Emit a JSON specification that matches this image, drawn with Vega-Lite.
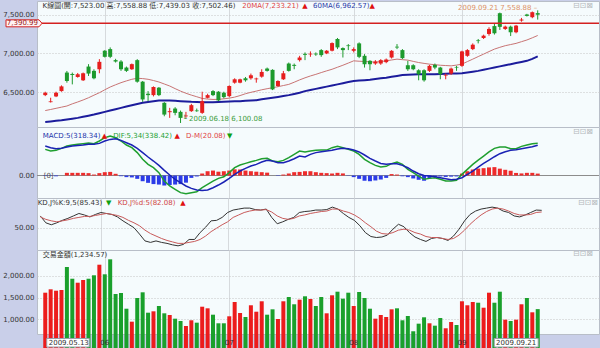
{
"$schema":"https://vega.github.io/schema/vega-lite/v6.json",
"background":"#c9cfe9",
"padding":0,
"spacing":0,
"bounds":"flush",
"config":{
 "view":{"fill":"#f5fbfd","stroke":"#b8bec8","strokeWidth":1},
 "font":"DejaVu Sans, Noto Sans CJK TC",
 "axis":{"labelFont":"DejaVu Sans","labelFontSize":7,"labelColor":"#333333","ticks":false,"tickSize":0,"domain":false,"gridColor":"#c4c4c4","gridDash":[1,2],"labelPadding":3},
 "axisY":{"minExtent":36,"maxExtent":36},
 "text":{"font":"DejaVu Sans, Noto Sans CJK TC","fontSize":7,"baseline":"middle","align":"left"}
},
"datasets":{"k":[
{"i":0,"open":6461,"high":6505,"low":6448,"close":6492,"vol":1613,"ma20":6261,"ma60":6113,"dif":274,"macd":309,"osc":-5,"k":74,"d":72},
{"i":1,"open":6370,"high":6427,"low":6365,"close":6380,"vol":1691,"ma20":6275,"ma60":6120,"dif":257,"macd":292,"osc":-4,"k":60,"d":67},
{"i":2,"open":6444,"high":6505,"low":6435,"close":6492,"vol":1659,"ma20":6290,"ma60":6128,"dif":264,"macd":281,"osc":-8,"k":56,"d":64},
{"i":3,"open":6513,"high":6587,"low":6505,"close":6574,"vol":1675,"ma20":6305,"ma60":6135,"dif":285,"macd":285,"osc":0,"k":60,"d":62},
{"i":4,"open":6753,"high":6774,"low":6622,"close":6644,"vol":2205,"ma20":6320,"ma60":6145,"dif":309,"macd":299,"osc":28,"k":65,"d":64},
{"i":5,"open":6735,"high":6753,"low":6600,"close":6722,"vol":1935,"ma20":6348,"ma60":6155,"dif":320,"macd":309,"osc":28,"k":69,"d":66},
{"i":6,"open":6696,"high":6748,"low":6687,"close":6731,"vol":1843,"ma20":6372,"ma60":6166,"dif":327,"macd":316,"osc":28,"k":74,"d":69},
{"i":7,"open":6653,"high":6753,"low":6644,"close":6744,"vol":1905,"ma20":6398,"ma60":6180,"dif":334,"macd":320,"osc":28,"k":79,"d":71},
{"i":8,"open":6831,"high":6862,"low":6709,"close":6740,"vol":1935,"ma20":6427,"ma60":6195,"dif":341,"macd":327,"osc":25,"k":76,"d":73},
{"i":9,"open":6775,"high":6796,"low":6666,"close":6679,"vol":2014,"ma20":6460,"ma60":6209,"dif":334,"macd":327,"osc":10,"k":72,"d":73},
{"i":10,"open":6796,"high":6927,"low":6744,"close":6892,"vol":2258,"ma20":6492,"ma60":6226,"dif":362,"macd":337,"osc":25,"k":77,"d":75},
{"i":11,"open":7036,"high":7044,"low":6948,"close":6957,"vol":2037,"ma20":6530,"ma60":6244,"dif":397,"macd":362,"osc":35,"k":81,"d":77},
{"i":12,"open":7057,"high":7079,"low":6940,"close":6957,"vol":2382,"ma20":6566,"ma60":6261,"dif":414,"macd":379,"osc":38,"k":79,"d":79},
{"i":13,"open":6914,"high":6931,"low":6883,"close":6896,"vol":1583,"ma20":6595,"ma60":6278,"dif":397,"macd":386,"osc":18,"k":77,"d":77},
{"i":14,"open":6896,"high":6914,"low":6775,"close":6796,"vol":1606,"ma20":6622,"ma60":6296,"dif":362,"macd":369,"osc":-7,"k":72,"d":75},
{"i":15,"open":6818,"high":6831,"low":6761,"close":6775,"vol":1244,"ma20":6645,"ma60":6313,"dif":320,"macd":344,"osc":-17,"k":64,"d":71},
{"i":16,"open":6796,"high":6870,"low":6788,"close":6862,"vol":945,"ma20":6666,"ma60":6330,"dif":292,"macd":320,"osc":-20,"k":57,"d":65},
{"i":17,"open":6914,"high":6927,"low":6622,"close":6635,"vol":1491,"ma20":6679,"ma60":6346,"dif":240,"macd":285,"osc":-35,"k":50,"d":60},
{"i":18,"open":6635,"high":6644,"low":6374,"close":6405,"vol":1622,"ma20":6675,"ma60":6361,"dif":170,"macd":240,"osc":-60,"k":37,"d":54},
{"i":19,"open":6479,"high":6513,"low":6383,"close":6461,"vol":1152,"ma20":6666,"ma60":6372,"dif":117,"macd":194,"osc":-77,"k":23,"d":45},
{"i":20,"open":6461,"high":6574,"low":6444,"close":6566,"vol":1184,"ma20":6650,"ma60":6382,"dif":82,"macd":152,"osc":-90,"k":20,"d":38},
{"i":21,"open":6557,"high":6566,"low":6448,"close":6461,"vol":1306,"ma20":6631,"ma60":6392,"dif":30,"macd":106,"osc":-95,"k":23,"d":33},
{"i":22,"open":6361,"high":6370,"low":6187,"close":6209,"vol":1138,"ma20":6605,"ma60":6392,"dif":-58,"macd":54,"osc":-105,"k":20,"d":28},
{"i":23,"open":6240,"high":6296,"low":6166,"close":6253,"vol":1099,"ma20":6579,"ma60":6392,"dif":-110,"macd":5,"osc":-100,"k":18,"d":24},
{"i":24,"open":6287,"high":6305,"low":6200,"close":6231,"vol":1014,"ma20":6545,"ma60":6388,"dif":-145,"macd":-40,"osc":-95,"k":15,"d":21},
{"i":25,"open":6244,"high":6261,"low":6100.08,"close":6166,"vol":961,"ma20":6513,"ma60":6383,"dif":-180,"macd":-75,"osc":-90,"k":13,"d":18},
{"i":26,"open":6187,"high":6244,"low":6166,"close":6196,"vol":846,"ma20":6485,"ma60":6378,"dif":-191,"macd":-110,"osc":-75,"k":16,"d":18},
{"i":27,"open":6253,"high":6348,"low":6244,"close":6331,"vol":977,"ma20":6461,"ma60":6374,"dif":-180,"macd":-135,"osc":-25,"k":26,"d":20},
{"i":28,"open":6262,"high":6287,"low":6244,"close":6253,"vol":922,"ma20":6440,"ma60":6372,"dif":-170,"macd":-152,"osc":-10,"k":26,"d":22},
{"i":29,"open":6231,"high":6505,"low":6218,"close":6383,"vol":1290,"ma20":6418,"ma60":6370,"dif":-128,"macd":-156,"osc":21,"k":40,"d":26},
{"i":30,"open":6426,"high":6479,"low":6418,"close":6461,"vol":1253,"ma20":6410,"ma60":6370,"dif":-93,"macd":-152,"osc":45,"k":51,"d":33},
{"i":31,"open":6513,"high":6526,"low":6448,"close":6461,"vol":1106,"ma20":6405,"ma60":6370,"dif":-58,"macd":-128,"osc":52,"k":64,"d":42},
{"i":32,"open":6505,"high":6513,"low":6383,"close":6392,"vol":908,"ma20":6406,"ma60":6372,"dif":-30,"macd":-100,"osc":40,"k":65,"d":49},
{"i":33,"open":6492,"high":6505,"low":6418,"close":6435,"vol":908,"ma20":6413,"ma60":6374,"dif":-13,"macd":-68,"osc":45,"k":71,"d":56},
{"i":34,"open":6448,"high":6587,"low":6435,"close":6579,"vol":1069,"ma20":6422,"ma60":6377,"dif":30,"macd":-30,"osc":52,"k":81,"d":62},
{"i":35,"open":6622,"high":6679,"low":6609,"close":6666,"vol":1399,"ma20":6435,"ma60":6380,"dif":82,"macd":12,"osc":65,"k":86,"d":71},
{"i":36,"open":6622,"high":6674,"low":6614,"close":6666,"vol":1145,"ma20":6455,"ma60":6383,"dif":110,"macd":47,"osc":63,"k":88,"d":76},
{"i":37,"open":6679,"high":6696,"low":6635,"close":6653,"vol":1053,"ma20":6479,"ma60":6387,"dif":127,"macd":75,"osc":52,"k":90,"d":81},
{"i":38,"open":6679,"high":6740,"low":6661,"close":6718,"vol":1323,"ma20":6497,"ma60":6391,"dif":145,"macd":99,"osc":45,"k":90,"d":84},
{"i":39,"open":6666,"high":6687,"low":6622,"close":6676,"vol":1175,"ma20":6513,"ma60":6396,"dif":159,"macd":117,"osc":40,"k":87,"d":86},
{"i":40,"open":6700,"high":6796,"low":6687,"close":6761,"vol":1415,"ma20":6530,"ma60":6406,"dif":176,"macd":141,"osc":35,"k":86,"d":86},
{"i":41,"open":6805,"high":6818,"low":6766,"close":6775,"vol":1106,"ma20":6544,"ma60":6416,"dif":180,"macd":159,"osc":30,"k":88,"d":87},
{"i":42,"open":6788,"high":6796,"low":6526,"close":6535,"vol":1230,"ma20":6557,"ma60":6427,"dif":152,"macd":152,"osc":0,"k":71,"d":82},
{"i":43,"open":6579,"high":6653,"low":6570,"close":6644,"vol":1007,"ma20":6570,"ma60":6438,"dif":145,"macd":134,"osc":-4,"k":58,"d":74},
{"i":44,"open":6666,"high":6774,"low":6657,"close":6744,"vol":1415,"ma20":6585,"ma60":6450,"dif":159,"macd":134,"osc":10,"k":62,"d":69},
{"i":45,"open":6870,"high":6883,"low":6766,"close":6775,"vol":1514,"ma20":6600,"ma60":6461,"dif":187,"macd":152,"osc":21,"k":67,"d":67},
{"i":46,"open":6853,"high":6870,"low":6796,"close":6840,"vol":1346,"ma20":6628,"ma60":6476,"dif":222,"macd":176,"osc":35,"k":71,"d":69},
{"i":47,"open":6914,"high":6970,"low":6896,"close":6948,"vol":1452,"ma20":6658,"ma60":6492,"dif":257,"macd":204,"osc":38,"k":81,"d":74},
{"i":48,"open":6996,"high":7014,"low":6914,"close":6983,"vol":1530,"ma20":6685,"ma60":6513,"dif":247,"macd":194,"osc":45,"k":83,"d":76},
{"i":49,"open":6988,"high":7027,"low":6957,"close":6998,"vol":1468,"ma20":6709,"ma60":6528,"dif":257,"macd":222,"osc":45,"k":84,"d":79},
{"i":50,"open":6998,"high":7014,"low":6970,"close":6988,"vol":1306,"ma20":6730,"ma60":6542,"dif":264,"macd":240,"osc":35,"k":86,"d":81},
{"i":51,"open":7044,"high":7057,"low":6957,"close":6979,"vol":1514,"ma20":6753,"ma60":6557,"dif":267,"macd":250,"osc":28,"k":86,"d":83},
{"i":52,"open":7001,"high":7044,"low":6992,"close":7036,"vol":1138,"ma20":6775,"ma60":6571,"dif":267,"macd":257,"osc":25,"k":87,"d":84},
{"i":53,"open":7036,"high":7144,"low":7027,"close":7135,"vol":1553,"ma20":6796,"ma60":6586,"dif":292,"macd":264,"osc":21,"k":92,"d":88},
{"i":54,"open":7188,"high":7201,"low":7057,"close":7079,"vol":1636,"ma20":6822,"ma60":6600,"dif":306,"macd":278,"osc":28,"k":88,"d":88},
{"i":55,"open":7070,"high":7079,"low":6948,"close":7044,"vol":1475,"ma20":6848,"ma60":6615,"dif":292,"macd":285,"osc":22,"k":79,"d":84},
{"i":56,"open":7105,"high":7122,"low":7044,"close":7096,"vol":1613,"ma20":6876,"ma60":6630,"dif":274,"macd":281,"osc":-3,"k":71,"d":81},
{"i":57,"open":7035,"high":7079,"low":7014,"close":7057,"vol":1306,"ma20":6905,"ma60":6644,"dif":257,"macd":267,"osc":-17,"k":65,"d":76},
{"i":58,"open":7131,"high":7144,"low":6940,"close":6957,"vol":1629,"ma20":6900,"ma60":6650,"dif":222,"macd":247,"osc":-35,"k":54,"d":69},
{"i":59,"open":6970,"high":6992,"low":6818,"close":6861,"vol":1491,"ma20":6896,"ma60":6655,"dif":170,"macd":215,"osc":-55,"k":40,"d":60},
{"i":60,"open":6905,"high":6914,"low":6783,"close":6861,"vol":1244,"ma20":6892,"ma60":6661,"dif":135,"macd":180,"osc":-60,"k":32,"d":52},
{"i":61,"open":6870,"high":6914,"low":6853,"close":6896,"vol":1014,"ma20":6888,"ma60":6670,"dif":106,"macd":152,"osc":-52,"k":30,"d":43},
{"i":62,"open":6870,"high":6927,"low":6853,"close":6914,"vol":1099,"ma20":6896,"ma60":6678,"dif":89,"macd":127,"osc":-42,"k":31,"d":38},
{"i":63,"open":6888,"high":6935,"low":6874,"close":6922,"vol":1053,"ma20":6905,"ma60":6687,"dif":96,"macd":117,"osc":-25,"k":35,"d":37},
{"i":64,"open":6948,"high":7044,"low":6935,"close":7035,"vol":1230,"ma20":6916,"ma60":6699,"dif":124,"macd":124,"osc":15,"k":47,"d":40},
{"i":65,"open":7088,"high":7122,"low":7057,"close":7078,"vol":1253,"ma20":6927,"ma60":6710,"dif":141,"macd":124,"osc":10,"k":57,"d":45},
{"i":66,"open":7044,"high":7057,"low":6927,"close":6940,"vol":977,"ma20":6920,"ma60":6722,"dif":117,"macd":106,"osc":-8,"k":52,"d":47},
{"i":67,"open":6848,"high":6905,"low":6775,"close":6796,"vol":1076,"ma20":6914,"ma60":6725,"dif":64,"macd":82,"osc":-17,"k":40,"d":45},
{"i":68,"open":6848,"high":6861,"low":6783,"close":6796,"vol":724,"ma20":6898,"ma60":6728,"dif":30,"macd":47,"osc":-31,"k":31,"d":40},
{"i":69,"open":6783,"high":6796,"low":6653,"close":6731,"vol":899,"ma20":6883,"ma60":6731,"dif":-6,"macd":19,"osc":-45,"k":26,"d":37},
{"i":70,"open":6783,"high":6796,"low":6635,"close":6653,"vol":1046,"ma20":6872,"ma60":6731,"dif":-40,"macd":1,"osc":-55,"k":22,"d":32},
{"i":71,"open":6775,"high":6853,"low":6761,"close":6840,"vol":908,"ma20":6862,"ma60":6731,"dif":-30,"macd":-6,"osc":-30,"k":28,"d":30},
{"i":72,"open":6853,"high":6870,"low":6796,"close":6818,"vol":853,"ma20":6855,"ma60":6731,"dif":-23,"macd":-13,"osc":-15,"k":30,"d":30},
{"i":73,"open":6818,"high":6827,"low":6666,"close":6731,"vol":1030,"ma20":6848,"ma60":6734,"dif":-40,"macd":-23,"osc":-10,"k":28,"d":28},
{"i":74,"open":6714,"high":6740,"low":6666,"close":6724,"vol":793,"ma20":6844,"ma60":6737,"dif":-58,"macd":-34,"osc":-15,"k":24,"d":26},
{"i":75,"open":6740,"high":6818,"low":6722,"close":6805,"vol":938,"ma20":6840,"ma60":6740,"dif":-58,"macd":-44,"osc":-12,"k":33,"d":28},
{"i":76,"open":6826,"high":6840,"low":6775,"close":6818,"vol":869,"ma20":6850,"ma60":6742,"dif":-51,"macd":-40,"osc":-10,"k":47,"d":35},
{"i":77,"open":6840,"high":7036,"low":6827,"close":7027,"vol":1415,"ma20":6862,"ma60":6744,"dif":12,"macd":-23,"osc":20,"k":64,"d":45},
{"i":78,"open":6970,"high":7057,"low":6957,"close":7044,"vol":1323,"ma20":6895,"ma60":6754,"dif":64,"macd":12,"osc":45,"k":77,"d":57},
{"i":79,"open":7057,"high":7131,"low":7044,"close":7114,"vol":1399,"ma20":6927,"ma60":6765,"dif":117,"macd":47,"osc":63,"k":84,"d":67},
{"i":80,"open":7170,"high":7188,"low":7131,"close":7161,"vol":1382,"ma20":6960,"ma60":6775,"dif":162,"macd":89,"osc":73,"k":88,"d":76},
{"i":81,"open":7201,"high":7244,"low":7188,"close":7231,"vol":1267,"ma20":6992,"ma60":6790,"dif":204,"macd":127,"osc":77,"k":90,"d":83},
{"i":82,"open":7253,"high":7340,"low":7231,"close":7318,"vol":1613,"ma20":7025,"ma60":6804,"dif":247,"macd":162,"osc":85,"k":92,"d":88},
{"i":83,"open":7355,"high":7390,"low":7245,"close":7262,"vol":1382,"ma20":7057,"ma60":6818,"dif":285,"macd":197,"osc":88,"k":90,"d":90},
{"i":84,"open":7522,"high":7530,"low":7305,"close":7345,"vol":1636,"ma20":7080,"ma60":6833,"dif":299,"macd":229,"osc":72,"k":84,"d":88},
{"i":85,"open":7318,"high":7361,"low":7305,"close":7348,"vol":991,"ma20":7101,"ma60":6847,"dif":299,"macd":250,"osc":60,"k":81,"d":84},
{"i":86,"open":7348,"high":7361,"low":7226,"close":7275,"vol":961,"ma20":7116,"ma60":6862,"dif":281,"macd":264,"osc":50,"k":74,"d":79},
{"i":87,"open":7275,"high":7370,"low":7262,"close":7361,"vol":991,"ma20":7131,"ma60":6876,"dif":281,"macd":271,"osc":27,"k":72,"d":76},
{"i":88,"open":7427,"high":7461,"low":7412,"close":7440,"vol":1346,"ma20":7153,"ma60":6891,"dif":306,"macd":281,"osc":22,"k":76,"d":76},
{"i":89,"open":7505,"high":7514,"low":7479,"close":7487,"vol":1491,"ma20":7175,"ma60":6905,"dif":320,"macd":292,"osc":28,"k":81,"d":77},
{"i":90,"open":7470,"high":7544,"low":7457,"close":7535,"vol":1161,"ma20":7203,"ma60":6930,"dif":334,"macd":302,"osc":28,"k":86,"d":81},
{"i":91,"open":7523,"high":7558.88,"low":7439.03,"close":7502.46,"vol":1234.57,"ma20":7233.21,"ma60":6962.57,"dif":338.42,"macd":318.34,"osc":20.08,"k":85.43,"d":82.08}
],
"months":[{"m":11,"t":"06"},{"m":34,"t":"07"},{"m":57,"t":"08"},{"m":77,"t":"09"}]},
"vconcat":[
{
 "width":562,"height":126,
 "data":{"name":"k"},
 "layer":[
  {"mark":{"type":"line","color":"#c87474","strokeWidth":1},
   "encoding":{"x":{"field":"i","type":"quantitative","scale":{"domain":[-0.6,101.4],"nice":false,"zero":false},"axis":{"values":[11,34,57,77],"labels":false,"grid":true,"gridDash":[],"gridColor":"#d6dadd","title":null}},
    "y":{"field":"ma20","type":"quantitative","scale":{"domain":[6048,7680],"nice":false,"zero":false},"axis":{"values":[6500,7000,7500],"format":",.2f","grid":true,"title":null}}}},
  {"mark":{"type":"line","color":"#1c1c9c","strokeWidth":2},
   "encoding":{"x":{"field":"i","type":"quantitative","scale":{"domain":[-0.6,101.4],"nice":false,"zero":false},"axis":{"title":null}},
    "y":{"field":"ma60","type":"quantitative","scale":{"domain":[6048,7680],"nice":false,"zero":false},"axis":{"title":null}}}},
  {"mark":{"type":"rule","strokeWidth":1},
   "encoding":{"x":{"field":"i","type":"quantitative","scale":{"domain":[-0.6,101.4],"nice":false,"zero":false},"axis":{"title":null}},
    "y":{"field":"low","type":"quantitative","scale":{"domain":[6048,7680],"nice":false,"zero":false},"axis":{"title":null}},
    "y2":{"field":"high"},
    "color":{"condition":{"test":"datum.close >= datum.open","value":"#e61e1e"},"value":"#1d9a2d"}}},
  {"mark":{"type":"bar","width":4},
   "encoding":{"x":{"field":"i","type":"quantitative","scale":{"domain":[-0.6,101.4],"nice":false,"zero":false},"axis":{"title":null}},
    "y":{"field":"open","type":"quantitative","scale":{"domain":[6048,7680],"nice":false,"zero":false},"axis":{"title":null}},
    "y2":{"field":"close"},
    "color":{"condition":{"test":"datum.close >= datum.open","value":"#e61e1e"},"value":"#1d9a2d"}}},
  {"data":{"values":[{}]},"mark":{"type":"rule","color":"#d42020","strokeWidth":1.6},
   "encoding":{"y":{"datum":7390.99,"type":"quantitative","scale":{"domain":[6048,7680],"nice":false,"zero":false},"axis":{"title":null}}}},
  {"data":{"values":[{}]},"mark":{"type":"point","shape":"M-36,-3.5H-3L0,0L-3,3.5H-36Z","size":4,"filled":true,"fill":"#fff4f4","stroke":"#d42020","strokeWidth":1,"opacity":1},
   "encoding":{"x":{"datum":-0.6,"type":"quantitative","scale":{"domain":[-0.6,101.4],"nice":false,"zero":false},"axis":{"title":null}},
    "y":{"datum":7390.99,"type":"quantitative","scale":{"domain":[6048,7680],"nice":false,"zero":false},"axis":{"title":null}}}},
  {"data":{"values":[{"t":"7,390.99"}]},"mark":{"type":"text","align":"right","dx":-4,"color":"#9a1a1a"},
   "encoding":{"x":{"datum":-0.6,"type":"quantitative","scale":{"domain":[-0.6,101.4],"nice":false,"zero":false},"axis":{"title":null}},
    "y":{"datum":7390.99,"type":"quantitative","scale":{"domain":[6048,7680],"nice":false,"zero":false},"axis":{"title":null}},"text":{"field":"t"}}},
  {"data":{"values":[{"t":"K線圖(開:7,523.00 高:7,558.88 低:7,439.03 收:7,502.46)"}]},"mark":{"type":"text","color":"#333333"},
   "encoding":{"x":{"datum":-0.5,"type":"quantitative","scale":{"domain":[-0.6,101.4],"nice":false,"zero":false},"axis":{"title":null}},
    "y":{"datum":7615,"type":"quantitative","scale":{"domain":[6048,7680],"nice":false,"zero":false},"axis":{"title":null}},"text":{"field":"t"}}},
  {"data":{"values":[{"t":"20MA(7,233.21)"}]},"mark":{"type":"text","color":"#e04444"},
   "encoding":{"x":{"datum":36.42,"type":"quantitative","scale":{"domain":[-0.6,101.4],"nice":false,"zero":false},"axis":{"title":null}},
    "y":{"datum":7615,"type":"quantitative","scale":{"domain":[6048,7680],"nice":false,"zero":false},"axis":{"title":null}},"text":{"field":"t"}}},
  {"data":{"values":[{"t":"▲"}]},"mark":{"type":"text","color":"#e01010"},
   "encoding":{"x":{"datum":47.49,"type":"quantitative","scale":{"domain":[-0.6,101.4],"nice":false,"zero":false},"axis":{"title":null}},
    "y":{"datum":7615,"type":"quantitative","scale":{"domain":[6048,7680],"nice":false,"zero":false},"axis":{"title":null}},"text":{"field":"t"}}},
  {"data":{"values":[{"t":"60MA(6,962.57)"}]},"mark":{"type":"text","color":"#2a3aa8"},
   "encoding":{"x":{"datum":49.49,"type":"quantitative","scale":{"domain":[-0.6,101.4],"nice":false,"zero":false},"axis":{"title":null}},
    "y":{"datum":7615,"type":"quantitative","scale":{"domain":[6048,7680],"nice":false,"zero":false},"axis":{"title":null}},"text":{"field":"t"}}},
  {"data":{"values":[{"t":"▲"}]},"mark":{"type":"text","color":"#e01010"},
   "encoding":{"x":{"datum":59.93,"type":"quantitative","scale":{"domain":[-0.6,101.4],"nice":false,"zero":false},"axis":{"title":null}},
    "y":{"datum":7615,"type":"quantitative","scale":{"domain":[6048,7680],"nice":false,"zero":false},"axis":{"title":null}},"text":{"field":"t"}}},
  {"data":{"values":[{"t":"⊟⊡⊠"}]},"mark":{"type":"text","align":"right","dx":-1,"fontSize":8,"color":"#b4b8bc"},
   "encoding":{"x":{"datum":101.4,"type":"quantitative","scale":{"domain":[-0.6,101.4],"nice":false,"zero":false},"axis":{"title":null}},
    "y":{"datum":7615,"type":"quantitative","scale":{"domain":[6048,7680],"nice":false,"zero":false},"axis":{"title":null}},"text":{"field":"t"}}},
  {"data":{"values":[{"t":"2009.09.21   7,558.88  –"}]},"mark":{"type":"text","align":"right","dx":-0.5,"dy":-2.7,"color":"#dd9266"},
   "encoding":{"x":{"datum":91,"type":"quantitative","scale":{"domain":[-0.6,101.4],"nice":false,"zero":false},"axis":{"title":null}},
    "y":{"datum":7558.88,"type":"quantitative","scale":{"domain":[6048,7680],"nice":false,"zero":false},"axis":{"title":null}},"text":{"field":"t"}}},
  {"data":{"values":[{"t":"└ 2009.06.18    6,100.08"}]},"mark":{"type":"text","align":"left","dx":2,"dy":-3.5,"color":"#3c9c3c"},
   "encoding":{"x":{"datum":25,"type":"quantitative","scale":{"domain":[-0.6,101.4],"nice":false,"zero":false},"axis":{"title":null}},
    "y":{"datum":6100.08,"type":"quantitative","scale":{"domain":[6048,7680],"nice":false,"zero":false},"axis":{"title":null}},"text":{"field":"t"}}}
 ]
},
{
 "width":562,"height":71,
 "data":{"name":"k"},
 "layer":[
  {"data":{"values":[{}]},"mark":{"type":"rule","color":"#8c8c8c","strokeWidth":1},
   "encoding":{"y":{"datum":0,"type":"quantitative","scale":{"domain":[-236,509],"nice":false,"zero":false},"axis":{"values":[0],"format":".2f","grid":false,"title":null}}}},
  {"mark":{"type":"bar","width":4},
   "encoding":{"x":{"field":"i","type":"quantitative","scale":{"domain":[-0.6,101.4],"nice":false,"zero":false},"axis":{"values":[11,34,57,77],"labels":false,"grid":true,"gridDash":[],"gridColor":"#d6dadd","title":null}},
    "y":{"field":"osc","type":"quantitative","scale":{"domain":[-236,509],"nice":false,"zero":false},"axis":{"title":null}},
    "y2":{"datum":0},
    "color":{"condition":{"test":"datum.osc >= 0","value":"#ee2b2b"},"value":"#2b3be8"}}},
  {"mark":{"type":"line","color":"#1f9f2f","strokeWidth":1.5},
   "encoding":{"x":{"field":"i","type":"quantitative","scale":{"domain":[-0.6,101.4],"nice":false,"zero":false},"axis":{"title":null}},
    "y":{"field":"dif","type":"quantitative","scale":{"domain":[-236,509],"nice":false,"zero":false},"axis":{"title":null}}}},
  {"mark":{"type":"line","color":"#1a22b4","strokeWidth":1.5},
   "encoding":{"x":{"field":"i","type":"quantitative","scale":{"domain":[-0.6,101.4],"nice":false,"zero":false},"axis":{"title":null}},
    "y":{"field":"macd","type":"quantitative","scale":{"domain":[-236,509],"nice":false,"zero":false},"axis":{"title":null}}}},
  {"data":{"values":[{"t":"[0]"}]},"mark":{"type":"text","color":"#555555"},
   "encoding":{"x":{"datum":-0.29,"type":"quantitative","scale":{"domain":[-0.6,101.4],"nice":false,"zero":false},"axis":{"title":null}},
    "y":{"datum":0,"type":"quantitative","scale":{"domain":[-236,509],"nice":false,"zero":false},"axis":{"title":null}},"text":{"field":"t"}}},
  {"data":{"values":[{"t":"MACD:5(318.34)"}]},"mark":{"type":"text","color":"#2233aa"},
   "encoding":{"x":{"datum":-0.47,"type":"quantitative","scale":{"domain":[-0.6,101.4],"nice":false,"zero":false},"axis":{"title":null}},
    "y":{"datum":415,"type":"quantitative","scale":{"domain":[-236,509],"nice":false,"zero":false},"axis":{"title":null}},"text":{"field":"t"}}},
  {"data":{"values":[{"t":"▲"}]},"mark":{"type":"text","color":"#e01010"},
   "encoding":{"x":{"datum":10.42,"type":"quantitative","scale":{"domain":[-0.6,101.4],"nice":false,"zero":false},"axis":{"title":null}},
    "y":{"datum":415,"type":"quantitative","scale":{"domain":[-236,509],"nice":false,"zero":false},"axis":{"title":null}},"text":{"field":"t"}}},
  {"data":{"values":[{"t":"DIF:5,34(338.42)"}]},"mark":{"type":"text","color":"#22a030"},
   "encoding":{"x":{"datum":12.56,"type":"quantitative","scale":{"domain":[-0.6,101.4],"nice":false,"zero":false},"axis":{"title":null}},
    "y":{"datum":415,"type":"quantitative","scale":{"domain":[-236,509],"nice":false,"zero":false},"axis":{"title":null}},"text":{"field":"t"}}},
  {"data":{"values":[{"t":"▲"}]},"mark":{"type":"text","color":"#e01010"},
   "encoding":{"x":{"datum":23.9,"type":"quantitative","scale":{"domain":[-0.6,101.4],"nice":false,"zero":false},"axis":{"title":null}},
    "y":{"datum":415,"type":"quantitative","scale":{"domain":[-236,509],"nice":false,"zero":false},"axis":{"title":null}},"text":{"field":"t"}}},
  {"data":{"values":[{"t":"D-M(20.08)"}]},"mark":{"type":"text","color":"#e04444"},
   "encoding":{"x":{"datum":26.02,"type":"quantitative","scale":{"domain":[-0.6,101.4],"nice":false,"zero":false},"axis":{"title":null}},
    "y":{"datum":415,"type":"quantitative","scale":{"domain":[-236,509],"nice":false,"zero":false},"axis":{"title":null}},"text":{"field":"t"}}},
  {"data":{"values":[{"t":"▼"}]},"mark":{"type":"text","color":"#10a010"},
   "encoding":{"x":{"datum":33.57,"type":"quantitative","scale":{"domain":[-0.6,101.4],"nice":false,"zero":false},"axis":{"title":null}},
    "y":{"datum":415,"type":"quantitative","scale":{"domain":[-236,509],"nice":false,"zero":false},"axis":{"title":null}},"text":{"field":"t"}}},
  {"data":{"values":[{"t":"⊟⊡⊠"}]},"mark":{"type":"text","align":"right","dx":-1,"fontSize":8,"color":"#b4b8bc"},
   "encoding":{"x":{"datum":101.4,"type":"quantitative","scale":{"domain":[-0.6,101.4],"nice":false,"zero":false},"axis":{"title":null}},
    "y":{"datum":456,"type":"quantitative","scale":{"domain":[-236,509],"nice":false,"zero":false},"axis":{"title":null}},"text":{"field":"t"}}}
 ]
},
{
 "width":562,"height":52,
 "data":{"name":"k"},
 "layer":[
  {"mark":{"type":"line","color":"#333333","strokeWidth":1},
   "encoding":{"x":{"field":"i","type":"quantitative","scale":{"domain":[-0.6,101.4],"nice":false,"zero":false},"axis":{"values":[11,34,57,77],"labels":false,"grid":true,"gridDash":[],"gridColor":"#d6dadd","title":null}},
    "y":{"field":"k","type":"quantitative","scale":{"domain":[4.5,110.6],"nice":false,"zero":false},"axis":{"values":[50],"format":".2f","grid":true,"title":null}}}},
  {"mark":{"type":"line","color":"#c85a5a","strokeWidth":1},
   "encoding":{"x":{"field":"i","type":"quantitative","scale":{"domain":[-0.6,101.4],"nice":false,"zero":false},"axis":{"title":null}},
    "y":{"field":"d","type":"quantitative","scale":{"domain":[4.5,110.6],"nice":false,"zero":false},"axis":{"title":null}}}},
  {"data":{"values":[{"t":"KD,J%K:9,5(85.43)"}]},"mark":{"type":"text","color":"#333333"},
   "encoding":{"x":{"datum":-0.47,"type":"quantitative","scale":{"domain":[-0.6,101.4],"nice":false,"zero":false},"axis":{"title":null}},
    "y":{"datum":100.4,"type":"quantitative","scale":{"domain":[4.5,110.6],"nice":false,"zero":false},"axis":{"title":null}},"text":{"field":"t"}}},
  {"data":{"values":[{"t":"▼"}]},"mark":{"type":"text","color":"#10a010"},
   "encoding":{"x":{"datum":11.92,"type":"quantitative","scale":{"domain":[-0.6,101.4],"nice":false,"zero":false},"axis":{"title":null}},
    "y":{"datum":100.4,"type":"quantitative","scale":{"domain":[4.5,110.6],"nice":false,"zero":false},"axis":{"title":null}},"text":{"field":"t"}}},
  {"data":{"values":[{"t":"KD,J%d:5(82.08)"}]},"mark":{"type":"text","color":"#d04444"},
   "encoding":{"x":{"datum":14.05,"type":"quantitative","scale":{"domain":[-0.6,101.4],"nice":false,"zero":false},"axis":{"title":null}},
    "y":{"datum":100.4,"type":"quantitative","scale":{"domain":[4.5,110.6],"nice":false,"zero":false},"axis":{"title":null}},"text":{"field":"t"}}},
  {"data":{"values":[{"t":"▲"}]},"mark":{"type":"text","color":"#e01010"},
   "encoding":{"x":{"datum":25.41,"type":"quantitative","scale":{"domain":[-0.6,101.4],"nice":false,"zero":false},"axis":{"title":null}},
    "y":{"datum":100.4,"type":"quantitative","scale":{"domain":[4.5,110.6],"nice":false,"zero":false},"axis":{"title":null}},"text":{"field":"t"}}},
  {"data":{"values":[{"t":"⊟⊡⊠"}]},"mark":{"type":"text","align":"right","dx":-1,"fontSize":8,"color":"#b4b8bc"},
   "encoding":{"x":{"datum":101.4,"type":"quantitative","scale":{"domain":[-0.6,101.4],"nice":false,"zero":false},"axis":{"title":null}},
    "y":{"datum":101,"type":"quantitative","scale":{"domain":[4.5,110.6],"nice":false,"zero":false},"axis":{"title":null}},"text":{"field":"t"}}}
 ]
},
{
 "width":562,"height":84,
 "data":{"name":"k"},
 "layer":[
  {"mark":{"type":"bar","width":4},
   "encoding":{"x":{"field":"i","type":"quantitative","scale":{"domain":[-0.6,101.4],"nice":false,"zero":false},"axis":{"values":[11,34,57,77],"labels":false,"grid":true,"gridDash":[],"gridColor":"#d6dadd","title":null,"minExtent":15,"maxExtent":15}},
    "y":{"field":"vol","type":"quantitative","scale":{"domain":[661,2597],"nice":false,"zero":false},"axis":{"values":[1000,1500,2000],"format":",.2f","grid":true,"title":null}},
    "color":{"condition":{"test":"datum.close >= datum.open","value":"#ec1c1c"},"value":"#1aa02c"}}},
  {"data":{"name":"months"},"mark":{"type":"text","align":"center","dy":9,"color":"#333333"},
   "encoding":{"x":{"field":"m","type":"quantitative","scale":{"domain":[-0.6,101.4],"nice":false,"zero":false},"axis":{"title":null}},
    "y":{"datum":661,"type":"quantitative","scale":{"domain":[661,2597],"nice":false,"zero":false},"axis":{"title":null}},"text":{"field":"t"}}},
  {"data":{"values":[{"t":"交易金額(1,234.57)"}]},"mark":{"type":"text","color":"#333333"},
   "encoding":{"x":{"datum":-0.47,"type":"quantitative","scale":{"domain":[-0.6,101.4],"nice":false,"zero":false},"axis":{"title":null}},
    "y":{"datum":2482,"type":"quantitative","scale":{"domain":[661,2597],"nice":false,"zero":false},"axis":{"title":null}},"text":{"field":"t"}}},
  {"data":{"values":[{"t":"⊟⊡⊠"}]},"mark":{"type":"text","align":"right","dx":-1,"fontSize":8,"color":"#b4b8bc"},
   "encoding":{"x":{"datum":101.4,"type":"quantitative","scale":{"domain":[-0.6,101.4],"nice":false,"zero":false},"axis":{"title":null}},
    "y":{"datum":2505,"type":"quantitative","scale":{"domain":[661,2597],"nice":false,"zero":false},"axis":{"title":null}},"text":{"field":"t"}}},
  {"data":{"values":[{}]},"mark":{"type":"point","shape":"M1.5,4.5H44V13H1.5Z","size":4,"filled":true,"fill":"#ffffff","stroke":"#9aa0a8","strokeWidth":1,"opacity":1},
   "encoding":{"x":{"datum":0,"type":"quantitative","scale":{"domain":[-0.6,101.4],"nice":false,"zero":false},"axis":{"title":null}},
    "y":{"datum":661,"type":"quantitative","scale":{"domain":[661,2597],"nice":false,"zero":false},"axis":{"title":null}}}},
  {"data":{"values":[{}]},"mark":{"type":"point","shape":"M-43.5,4.5H0.5V13H-43.5Z","size":4,"filled":true,"fill":"#ffffff","stroke":"#9aa0a8","strokeWidth":1,"opacity":1},
   "encoding":{"x":{"datum":91,"type":"quantitative","scale":{"domain":[-0.6,101.4],"nice":false,"zero":false},"axis":{"title":null}},
    "y":{"datum":661,"type":"quantitative","scale":{"domain":[661,2597],"nice":false,"zero":false},"axis":{"title":null}}}},
  {"data":{"values":[{"t":"2009.05.13"}]},"mark":{"type":"text","align":"left","dx":3.5,"dy":9,"color":"#333333"},
   "encoding":{"x":{"datum":0,"type":"quantitative","scale":{"domain":[-0.6,101.4],"nice":false,"zero":false},"axis":{"title":null}},
    "y":{"datum":661,"type":"quantitative","scale":{"domain":[661,2597],"nice":false,"zero":false},"axis":{"title":null}},"text":{"field":"t"}}},
  {"data":{"values":[{"t":"2009.09.21"}]},"mark":{"type":"text","align":"right","dx":-1.5,"dy":9,"color":"#333333"},
   "encoding":{"x":{"datum":91,"type":"quantitative","scale":{"domain":[-0.6,101.4],"nice":false,"zero":false},"axis":{"title":null}},
    "y":{"datum":661,"type":"quantitative","scale":{"domain":[661,2597],"nice":false,"zero":false},"axis":{"title":null}},"text":{"field":"t"}}}
 ]
}
]
}
